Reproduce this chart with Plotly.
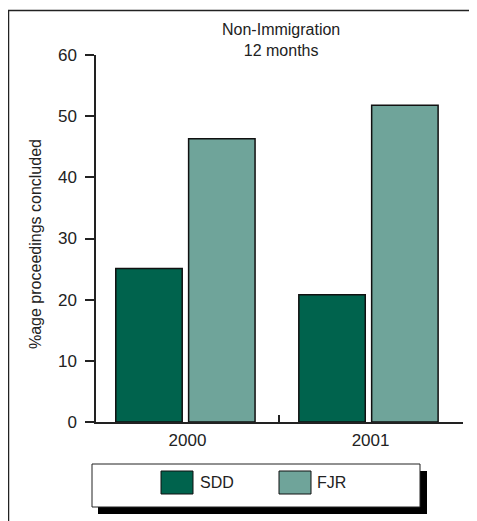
import plotly.graph_objects as go

# ---- data ----
categories = ["2000", "2001"]
series_names = ["SDD", "FJR"]
sdd_values = [25.1, 20.8]
fjr_values = [46.3, 51.8]
y_ticks = [0, 10, 20, 30, 40, 50, 60]
title_lines = ["Non-Immigration", "12 months"]
y_title = "%age proceedings concluded"

# ---- style ----
W, H = 477, 521
OFF = 8  # page body offset in the browser
# plot area in screen pixels
SX0, SX1, SY0, SY1 = 96, 463, 55, 422
L, R, T, B = SX0 - OFF, W - (SX1 - OFF), SY0 - OFF, H - (SY1 - OFF)
PW, PH = W - L - R, H - T - B
COL_SDD = "#00634D"
COL_FJR = "#6FA49A"
FONT = "Liberation Sans, Arial, sans-serif"
TXT = "#222222"
BAR_W = 0.363
SDD_OFF = -0.392
FJR_OFF = 0.006


def px(x):
    return (x - SX0) / PW


def py(y):
    return (SY1 - y) / PH


fig = go.Figure()
fig.add_trace(go.Bar(x=categories, y=sdd_values, name=series_names[0],
                     width=BAR_W, offset=SDD_OFF,
                     marker=dict(color=COL_SDD, line=dict(color="#111111", width=1.5)),
                     showlegend=False))
fig.add_trace(go.Bar(x=categories, y=fjr_values, name=series_names[1],
                     width=BAR_W, offset=FJR_OFF,
                     marker=dict(color=COL_FJR, line=dict(color="#111111", width=1.5)),
                     showlegend=False))

shapes = []
# outer frame (clipped at right/bottom like the reference)
shapes.append(dict(type="rect", xref="paper", yref="paper",
                   x0=px(8.5), x1=px(W + 40), y0=py(H + 40), y1=py(10.5),
                   line=dict(color="#222222", width=1.5), fillcolor="rgba(0,0,0,0)", layer="below"))
# legend shadow + box
shapes.append(dict(type="rect", xref="paper", yref="paper",
                   x0=px(98), x1=px(427), y0=py(514), y1=py(471),
                   line=dict(width=0), fillcolor="#000000"))
shapes.append(dict(type="rect", xref="paper", yref="paper",
                   x0=px(92), x1=px(420), y0=py(507), y1=py(464),
                   line=dict(color="#222222", width=1), fillcolor="#ffffff"))
# legend swatches
for x0, col in [(161, COL_SDD), (279, COL_FJR)]:
    shapes.append(dict(type="rect", xref="paper", yref="paper",
                       x0=px(x0), x1=px(x0 + 32), y0=py(494), y1=py(471),
                       line=dict(color="#111111", width=1), fillcolor=col))

annotations = [
    dict(text="<br>".join(title_lines), xref="paper", yref="paper", x=px(281), y=py(19),
         xanchor="center", yanchor="top", showarrow=False,
         font=dict(family=FONT, size=16, color=TXT)),
    dict(text=y_title, xref="paper", yref="paper", x=px(36), y=py(244),
         xanchor="center", yanchor="middle", textangle=-90, showarrow=False,
         font=dict(family=FONT, size=16, color=TXT)),
    dict(text=series_names[0], xref="paper", yref="paper", x=px(198), y=py(483),
         xanchor="left", yanchor="middle", showarrow=False,
         font=dict(family=FONT, size=16, color=TXT)),
    dict(text=series_names[1], xref="paper", yref="paper", x=px(315), y=py(483),
         xanchor="left", yanchor="middle", showarrow=False,
         font=dict(family=FONT, size=16, color=TXT)),
]

fig.update_layout(
    width=W, height=H,
    margin=dict(l=L, r=R, t=T, b=B, pad=0),
    paper_bgcolor="white", plot_bgcolor="white",
    barmode="group",
    shapes=shapes, annotations=annotations,
    font=dict(family=FONT, size=17, color=TXT),
    showlegend=False,
)
fig.update_yaxes(range=[0, 60], tickvals=y_ticks, ticks="outside", ticklen=9,
                 tickwidth=1.5, tickcolor="#222222", showline=True, linecolor="#222222",
                 linewidth=1.5, showgrid=False, zeroline=False,
                 tickfont=dict(family=FONT, size=17, color=TXT),
                 ticklabelstandoff=5)
fig.update_xaxes(type="category", range=[-0.5, 1.505], ticks="inside", tickson="boundaries",
                 ticklen=7, tickwidth=1.5, tickcolor="#222222", showline=True,
                 linecolor="#222222", linewidth=1.5, showgrid=False, ticklabelstandoff=2,
                 tickfont=dict(family=FONT, size=17, color=TXT))

fig.write_html("out.html")
